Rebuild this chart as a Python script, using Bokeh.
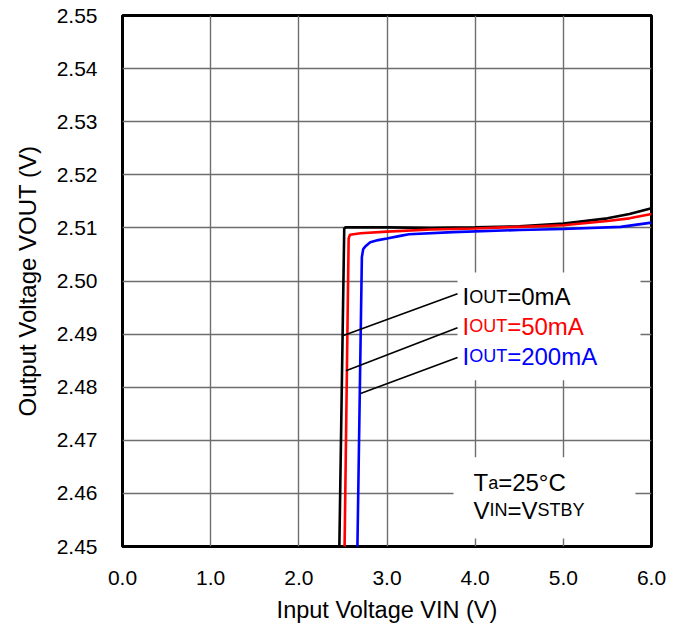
from bokeh.plotting import figure
from bokeh.models import Label, FixedTicker, Range1d
from bokeh.embed import file_html
from bokeh.resources import INLINE

# ---------------- data ----------------
x_ticks = [0.0, 1.0, 2.0, 3.0, 4.0, 5.0, 6.0]
x_tick_labels = ["0.0", "1.0", "2.0", "3.0", "4.0", "5.0", "6.0"]
y_ticks = [2.45, 2.46, 2.47, 2.48, 2.49, 2.50, 2.51, 2.52, 2.53, 2.54, 2.55]
y_tick_labels = ["2.45", "2.46", "2.47", "2.48", "2.49", "2.50",
                 "2.51", "2.52", "2.53", "2.54", "2.55"]

vin_0ma = [2.455, 2.515, 2.53, 3.0, 3.5, 4.0, 4.5, 5.0, 5.5, 5.75, 6.0]
vout_0ma = [2.445, 2.5099, 2.5101, 2.5101, 2.5100, 2.5101, 2.5103, 2.5108,
            2.5118, 2.5126, 2.5137]

vin_50ma = [2.515, 2.565, 2.58, 2.7, 3.0, 3.5, 4.0, 4.5, 5.0, 5.5, 5.75, 6.0]
vout_50ma = [2.445, 2.5080, 2.5087, 2.5090, 2.5093, 2.5097, 2.5099, 2.5102,
             2.5105, 2.5113, 2.5118, 2.5126]

vin_200ma = [2.66, 2.715, 2.73, 2.76, 2.81, 2.9, 3.0, 3.15, 3.25, 3.75, 4.5,
             5.0, 5.65, 6.0]
vout_200ma = [2.445, 2.5045, 2.5060, 2.5066, 2.5073, 2.5077, 2.5080, 2.5085,
              2.5088, 2.5092, 2.5096, 2.5098, 2.5102, 2.5110]

series_colors = ["black", "#ff0000", "#0000ff"]
series_values = ["0mA", "50mA", "200mA"]

x_title = "Input Voltage VIN (V)"
y_title = "Output Voltage VOUT (V)"

# leader lines (from label to curve)
leader_x0 = [3.80, 3.80, 3.80]
leader_y0 = [2.4976, 2.4912, 2.4856]
leader_x1 = [2.498, 2.535, 2.70]
leader_y1 = [2.4897, 2.4831, 2.4788]

# ---------------- figure ----------------
FONT = "Liberation Sans"
W, H = 675, 625
p = figure(width=W, height=H, output_backend="svg", toolbar_location=None,
           x_range=Range1d(0, 6), y_range=Range1d(2.45, 2.55),
           min_border_left=122, min_border_right=24, min_border_top=15,
           min_border_bottom=79)
p.background_fill_color = "white"
p.border_fill_color = "white"
p.outline_line_color = "black"
p.outline_line_width = 3

p.xaxis.ticker = FixedTicker(ticks=x_ticks)
p.yaxis.ticker = FixedTicker(ticks=y_ticks)
p.xaxis.major_label_overrides = {t: s for t, s in zip(x_ticks, x_tick_labels)}
p.yaxis.major_label_overrides = {t: s for t, s in zip(y_ticks, y_tick_labels)}
p.xaxis.axis_label = x_title
p.yaxis.axis_label = y_title
for ax in (p.xaxis, p.yaxis):
    ax.axis_line_color = None
    ax.major_tick_line_color = None
    ax.minor_tick_line_color = None
    ax.major_tick_out = 0
    ax.major_tick_in = 0
    ax.major_label_text_font = FONT
    ax.major_label_text_font_size = "21px"
    ax.major_label_text_color = "black"
    ax.axis_label_text_font = FONT
    ax.axis_label_text_font_style = "normal"
    ax.axis_label_text_color = "black"
p.xaxis.axis_label_text_font_size = "23.5px"
p.yaxis.axis_label_text_font_size = "24px"
p.xaxis.major_label_standoff = 24
p.yaxis.major_label_standoff = 25
p.xaxis.axis_label_standoff = 9
p.yaxis.axis_label_standoff = 13

p.xgrid.ticker = FixedTicker(ticks=x_ticks)
p.ygrid.ticker = FixedTicker(ticks=y_ticks)
p.grid.grid_line_color = "#6e6e6e"
p.grid.grid_line_width = 1.4

# white masks behind the annotation texts
p.quad(left=[3.80, 3.754], right=[5.875, 5.818], bottom=[2.4813, 2.4515],
       top=[2.5016, 2.4668], fill_color="white", line_color=None)

# curves
for xs, ys, c in zip([vin_0ma, vin_50ma, vin_200ma],
                     [vout_0ma, vout_50ma, vout_200ma], series_colors):
    p.line(xs, ys, line_color=c, line_width=2.6)

# leaders
p.segment(x0=leader_x0, y0=leader_y0, x1=leader_x1, y1=leader_y1,
          line_color="black", line_width=1.6)

# ---------------- text helpers ----------------
ADV = {" ": 278, "(": 333, ")": 333, ".": 278, "=": 584, "°": 400,
       "0": 556, "1": 556, "2": 556, "5": 556,
       "A": 667, "B": 667, "C": 722, "I": 278, "N": 722, "O": 778, "S": 667,
       "T": 611, "U": 722, "V": 667, "Y": 667,
       "a": 556, "e": 556, "g": 556, "l": 222, "m": 833, "n": 556, "o": 556,
       "p": 556, "t": 278, "u": 556}


def tw(s, size):
    return sum(ADV.get(ch, 556) for ch in s) * size / 1000.0


def add_runs(x, y, runs, color="black"):
    off = 0.0
    for txt, size in runs:
        p.add_layout(Label(x=x, y=y, x_offset=off, text=txt, text_font=FONT,
                           text_font_size=f"{size}px", text_color=color,
                           text_align="left", text_baseline="alphabetic"))
        off += tw(txt, size)


BIG, SMALL = 24, 18

# legend labels
label_y = [2.4970, 2.4915, 2.4858]
for c, v, ly in zip(series_colors, series_values, label_y):
    add_runs(3.856, ly, [("I", BIG), ("OUT", SMALL), ("=" + v, BIG)], color=c)

# conditions box
add_runs(3.981, 2.4620, [("T", BIG), ("a", SMALL), ("=25°C", BIG)])
add_runs(3.981, 2.4568, [("V", BIG), ("IN", SMALL), ("=V", BIG),
                         ("STBY", SMALL)])

open("out.html", "w").write(file_html(p, INLINE))
